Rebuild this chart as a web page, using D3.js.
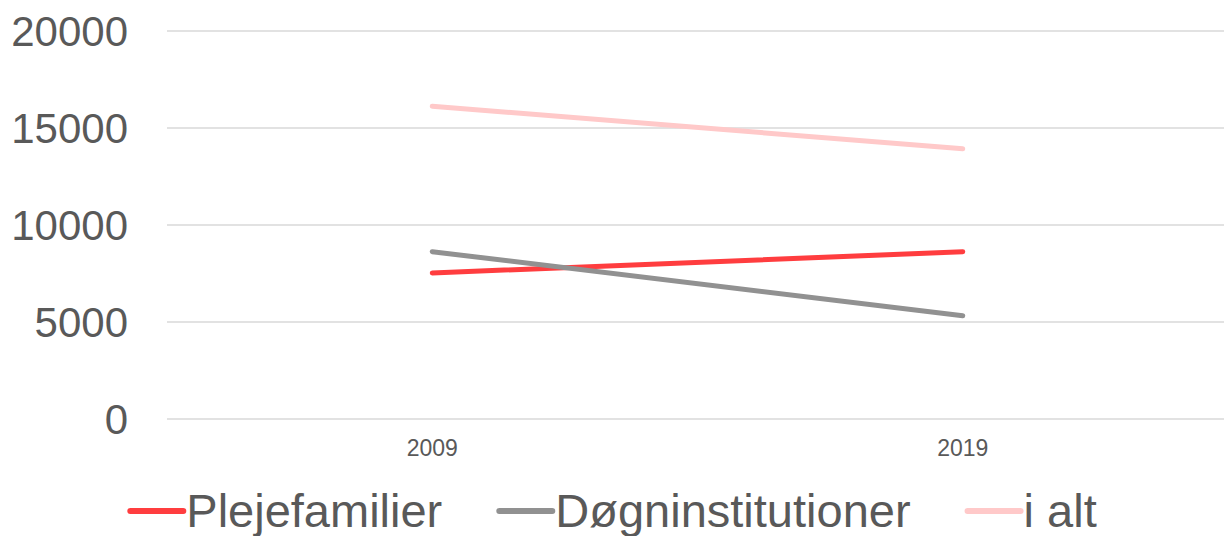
<!DOCTYPE html>
<html><head><meta charset="utf-8">
<script src="https://cdn.jsdelivr.net/npm/d3@7"></script>
<style>
html,body{margin:0;padding:0;background:#fff;}
svg{display:block;font-family:Arial,"Liberation Sans",sans-serif;}
</style></head>
<body>
<svg id="chart" width="1224" height="536"></svg>
<script>
const categories = ["2009", "2019"];
const plejefamilier = [7500, 8600];
const dogninstitutioner = [8600, 5300];
const iAlt = [16100, 13900];
const seriesNames = ["Plejefamilier", "Døgninstitutioner", "i alt"];
const yTicks = [0, 5000, 10000, 15000, 20000];

(function () {
const colors = ["#ff3d3f", "#919191", "#ffc9c9"];
const seriesData = [plejefamilier, dogninstitutioner, iAlt];

const svg = d3.select("#chart");
const W = 1224, H = 536;
const mLeft = 167, mRight = 1228, mTop = 30.5, mBottom = 418.5;

const x = d3.scaleBand().domain(categories).range([mLeft, mRight]);
const y = d3.scaleLinear().domain([0, 20000]).range([mBottom, mTop]);

// gridlines
const yAxis = d3.axisLeft(y).tickValues(yTicks).tickSize(-(W - mLeft)).tickFormat(d3.format("d")).tickPadding(39);
const gy = svg.append("g").attr("transform", `translate(${mLeft},0)`).call(yAxis);
gy.select(".domain").remove();
gy.selectAll(".tick line").attr("stroke", "#d9d9d9").attr("stroke-width", 1.5);
gy.selectAll(".tick text").attr("fill", "#595959").style("font-size", "42px").attr("dy", "0.35em");

// x axis labels
const xAxis = d3.axisBottom(x).tickSize(0).tickPadding(0);
const gx = svg.append("g").attr("transform", `translate(0,${mBottom})`).call(xAxis);
gx.select(".domain").remove();
gx.selectAll(".tick text").attr("fill", "#595959").style("font-size", "23px").attr("dy", "37px").attr("y", 0);

// lines
const line = d3.line().x((d, i) => x(categories[i]) + x.bandwidth() / 2).y(d => y(d));
seriesData.forEach((s, k) => {
  svg.append("path").datum(s).attr("d", line)
    .attr("fill", "none").attr("stroke", colors[k]).attr("stroke-width", 5)
    .attr("stroke-linecap", "round");
});

// legend
const lg = svg.append("g");
const items = [];
seriesNames.forEach((n, k) => {
  const g = lg.append("g");
  g.append("line").attr("x1", 3).attr("x2", 56).attr("y1", 0).attr("y2", 0)
    .attr("stroke", colors[k]).attr("stroke-width", 6).attr("stroke-linecap", "round");
  const t = g.append("text").attr("x", 59).attr("y", 0).attr("dy", "0.35em")
    .attr("fill", "#595959").style("font-size", "47px").text(n);
  const w = 59 + t.node().getComputedTextLength();
  items.push({g, w});
});
const gap = 54;
const total = d3.sum(items, d => d.w) + gap * (items.length - 1);
let pos = W / 2 - total / 2;
items.forEach(it => { it.g.attr("transform", `translate(${pos},511)`); pos += it.w + gap; });
})();
</script>
</body></html>
